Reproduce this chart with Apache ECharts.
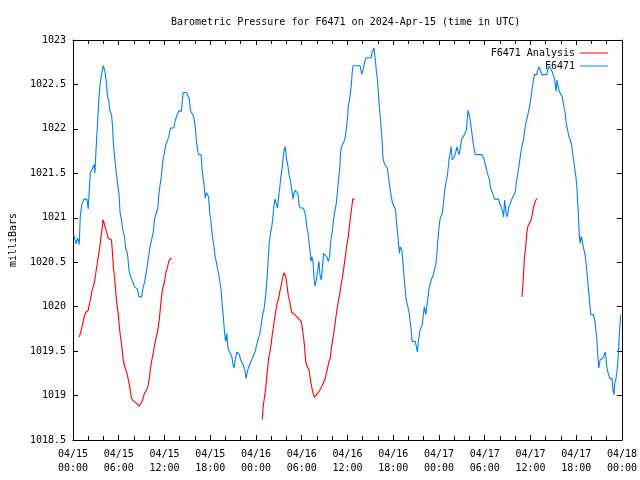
<!DOCTYPE html>
<html>
<head>
<meta charset="utf-8">
<script src="https://cdn.jsdelivr.net/npm/echarts@6/dist/echarts.min.js"></script>
<style>html,body{margin:0;padding:0;background:#fff}#c{width:640px;height:480px}</style>
</head>
<body>
<div id="c"></div>
<script>
// Hours since 2024-04-15 00:00 UTC
const xTickLabels = ['04/15\n00:00','04/15\n06:00','04/15\n12:00','04/15\n18:00','04/16\n00:00','04/16\n06:00','04/16\n12:00','04/16\n18:00','04/17\n00:00','04/17\n06:00','04/17\n12:00','04/17\n18:00','04/18\n00:00'];
const yTickLabels = ['1018.5','1019','1019.5','1020','1020.5','1021','1021.5','1022','1022.5','1023'];

const stationHours = [0.09,0.39,0.61,0.82,0.95,1.13,1.40,1.83,2.00,2.13,2.26,2.57,2.78,2.87,3.00,3.13,3.30,3.43,3.56,3.74,3.95,4.17,4.34,4.53,4.70,4.83,5.05,5.18,5.31,5.48,5.61,5.74,5.91,6.04,6.17,6.35,6.48,6.61,6.78,6.91,7.13,7.21,7.34,7.47,7.57,7.70,7.83,8.09,8.44,8.65,9.00,9.22,9.39,9.65,9.82,10.08,10.30,10.53,10.70,10.96,11.13,11.26,11.39,11.57,11.70,11.83,12.00,12.13,12.35,12.56,12.78,13.21,13.43,13.66,13.87,14.22,14.44,14.87,15.04,15.26,15.39,15.65,15.82,16.04,16.17,16.34,16.47,16.79,16.92,17.05,17.22,17.35,17.48,17.65,17.78,17.91,18.09,18.22,18.35,18.52,18.65,18.78,18.95,19.08,19.21,19.40,19.53,19.66,19.83,19.96,20.05,20.18,20.31,20.52,20.70,20.83,20.96,21.13,21.26,21.48,21.69,21.82,22.00,22.21,22.34,22.57,22.70,22.87,23.00,23.22,23.44,23.65,23.87,24.09,24.30,24.52,24.74,24.87,25.04,25.17,25.30,25.47,25.60,25.73,25.92,26.05,26.18,26.35,26.48,26.70,26.83,27.00,27.13,27.26,27.43,27.56,27.69,27.82,28.00,28.21,28.34,28.53,28.79,28.87,29.00,29.18,29.39,29.52,29.65,29.83,30.17,30.39,30.52,30.69,30.82,30.95,31.13,31.21,31.34,31.47,31.60,31.73,31.92,32.09,32.26,32.39,32.57,32.70,32.87,33.13,33.30,33.48,33.65,33.82,34.00,34.17,34.34,34.53,34.70,34.87,35.00,35.09,35.22,35.48,35.65,35.83,36.00,36.09,36.26,36.39,36.52,36.61,36.74,37.66,37.87,38.09,38.26,38.44,39.09,39.22,39.39,39.48,39.65,39.78,39.91,40.04,40.21,40.34,40.53,40.66,40.83,41.05,41.22,41.39,41.52,41.70,41.87,42.09,42.30,42.43,42.56,42.69,42.82,42.91,43.00,43.13,43.30,43.43,43.57,43.70,43.87,44.09,44.22,44.35,44.48,44.87,45.04,45.17,45.30,45.48,45.65,45.82,45.95,46.08,46.27,46.40,46.57,46.70,46.87,47.05,47.26,47.39,47.57,47.70,47.83,47.96,48.09,48.22,48.43,48.56,48.69,48.82,48.95,49.08,49.21,49.34,49.48,49.61,49.74,49.92,50.05,50.18,50.35,50.52,50.65,50.78,50.96,51.13,51.30,51.48,51.61,51.69,51.82,52.00,52.13,52.26,52.43,52.60,52.79,53.65,53.87,54.00,54.17,54.30,54.43,54.61,54.74,54.87,55.04,55.17,55.30,55.83,55.96,56.13,56.35,56.48,56.61,56.78,56.96,57.13,57.35,57.56,57.82,58.00,58.17,58.34,58.53,58.70,58.87,59.09,59.26,59.44,59.61,59.78,59.96,60.17,60.39,60.52,60.82,60.95,61.13,61.30,61.48,62.13,62.26,62.44,62.70,62.87,63.04,63.22,63.35,63.48,63.65,63.78,64.00,64.17,64.34,64.53,64.70,64.87,65.05,65.22,65.39,65.52,65.65,65.83,65.96,66.09,66.17,66.30,66.39,66.52,66.65,66.78,66.95,67.13,67.26,67.39,67.53,67.66,67.79,67.92,68.26,68.44,68.57,68.70,68.83,68.96,69.13,69.30,69.48,69.65,69.83,69.96,70.08,70.27,70.43,70.70,70.83,70.96,71.05,71.22,71.39,71.52,71.65,71.74,71.83];
const stationMb = [1020.81,1020.71,1020.77,1020.70,1021.01,1021.14,1021.21,1021.21,1021.10,1021.31,1021.50,1021.56,1021.60,1021.50,1021.73,1021.93,1022.19,1022.38,1022.51,1022.61,1022.71,1022.66,1022.55,1022.36,1022.31,1022.21,1022.16,1022.04,1021.82,1021.67,1021.56,1021.46,1021.35,1021.26,1021.06,1020.98,1020.89,1020.84,1020.77,1020.66,1020.60,1020.54,1020.41,1020.36,1020.34,1020.38,1020.28,1020.22,1020.20,1020.11,1020.11,1020.23,1020.27,1020.41,1020.51,1020.66,1020.75,1020.84,1020.99,1021.01,1021.11,1021.26,1021.35,1021.46,1021.56,1021.67,1021.73,1021.81,1021.86,1021.91,1022.01,1022.01,1022.10,1022.16,1022.20,1022.20,1022.41,1022.41,1022.38,1022.33,1022.21,1022.19,1022.14,1022.02,1021.88,1021.76,1021.71,1021.71,1021.56,1021.46,1021.35,1021.22,1021.28,1021.29,1021.24,1021.07,1020.96,1020.84,1020.75,1020.66,1020.56,1020.51,1020.43,1020.38,1020.31,1020.21,1020.06,1019.94,1019.76,1019.64,1019.61,1019.70,1019.55,1019.49,1019.49,1019.44,1019.36,1019.31,1019.40,1019.49,1019.49,1019.46,1019.40,1019.40,1019.34,1019.27,1019.19,1019.27,1019.31,1019.36,1019.40,1019.42,1019.49,1019.57,1019.64,1019.70,1019.70,1019.91,1019.96,1020.06,1020.15,1020.34,1020.52,1020.71,1020.84,1020.88,1020.98,1021.13,1021.21,1021.21,1021.11,1021.26,1021.35,1021.46,1021.56,1021.67,1021.76,1021.80,1021.67,1021.57,1021.48,1021.41,1021.41,1021.21,1021.28,1021.31,1021.31,1021.26,1021.14,1021.11,1021.11,1021.07,1021.01,1020.88,1020.83,1020.73,1020.60,1020.51,1020.56,1020.51,1020.34,1020.23,1020.30,1020.41,1020.51,1020.36,1020.30,1020.43,1020.60,1020.60,1020.56,1020.51,1020.56,1020.75,1020.84,1020.98,1021.07,1021.16,1021.31,1021.46,1021.57,1021.73,1021.80,1021.82,1021.88,1021.99,1022.12,1022.25,1022.33,1022.40,1022.51,1022.63,1022.71,1022.71,1022.61,1022.68,1022.76,1022.80,1022.80,1022.86,1022.85,1022.91,1022.78,1022.66,1022.57,1022.42,1022.21,1022.10,1021.88,1021.67,1021.61,1021.59,1021.56,1021.46,1021.37,1021.26,1021.18,1021.13,1021.09,1020.96,1020.84,1020.71,1020.60,1020.67,1020.69,1020.64,1020.47,1020.32,1020.19,1020.08,1020.02,1019.93,1019.83,1019.74,1019.61,1019.61,1019.55,1019.49,1019.61,1019.72,1019.77,1019.80,1019.91,1020.00,1019.91,1020.00,1020.11,1020.21,1020.26,1020.32,1020.36,1020.41,1020.47,1020.56,1020.73,1020.84,1020.96,1021.01,1021.05,1021.14,1021.26,1021.35,1021.41,1021.46,1021.56,1021.67,1021.74,1021.80,1021.65,1021.63,1021.69,1021.73,1021.80,1021.74,1021.71,1021.78,1021.88,1021.89,1021.93,1021.93,1021.99,1022.10,1022.21,1022.14,1022.08,1021.99,1021.88,1021.78,1021.71,1021.71,1021.67,1021.63,1021.57,1021.52,1021.48,1021.43,1021.35,1021.31,1021.28,1021.24,1021.21,1021.21,1021.16,1021.13,1021.07,1021.01,1021.20,1021.07,1021.01,1021.11,1021.11,1021.21,1021.21,1021.29,1021.41,1021.50,1021.61,1021.71,1021.80,1021.88,1021.99,1022.08,1022.14,1022.21,1022.29,1022.42,1022.55,1022.61,1022.61,1022.66,1022.70,1022.66,1022.61,1022.61,1022.66,1022.71,1022.71,1022.64,1022.59,1022.53,1022.42,1022.55,1022.47,1022.42,1022.42,1022.36,1022.27,1022.19,1022.06,1021.99,1021.91,1021.88,1021.82,1021.74,1021.65,1021.54,1021.46,1021.35,1021.20,1021.01,1020.81,1020.71,1020.79,1020.75,1020.66,1020.60,1020.52,1020.41,1020.26,1020.15,1020.02,1019.91,1019.91,1019.85,1019.74,1019.64,1019.46,1019.31,1019.40,1019.38,1019.42,1019.44,1019.49,1019.36,1019.29,1019.23,1019.19,1019.19,1019.06,1019.01,1019.14,1019.19,1019.31,1019.46,1019.68,1019.79,1019.91];

const analysisSeg1Hours = [0.82,1.04,1.27,1.47,1.70,2.00,2.18,2.35,2.52,2.70,2.87,3.04,3.22,3.39,3.56,3.74,3.87,3.95,4.08,4.27,4.43,4.61,4.74,5.05,5.18,5.31,5.48,5.61,5.74,5.91,6.04,6.17,6.35,6.48,6.61,6.78,6.95,7.13,7.30,7.47,7.66,7.92,8.22,8.44,8.65,8.87,9.04,9.22,9.39,9.65,9.82,10.00,10.17,10.34,10.53,10.70,10.96,11.13,11.31,11.48,11.65,11.83,12.00,12.17,12.35,12.56,12.78,12.95];
const analysisSeg1Mb = [1019.66,1019.72,1019.81,1019.89,1019.94,1019.96,1020.04,1020.11,1020.19,1020.24,1020.30,1020.41,1020.51,1020.60,1020.71,1020.83,1020.92,1020.98,1020.94,1020.88,1020.83,1020.77,1020.75,1020.75,1020.60,1020.43,1020.30,1020.17,1020.04,1019.93,1019.81,1019.70,1019.59,1019.49,1019.38,1019.33,1019.31,1019.23,1019.16,1019.08,1018.97,1018.94,1018.92,1018.90,1018.88,1018.88,1018.93,1018.98,1019.03,1019.06,1019.10,1019.19,1019.31,1019.40,1019.48,1019.57,1019.59,1019.74,1019.85,1020.00,1020.15,1020.23,1020.28,1020.38,1020.43,1020.51,1020.54,1020.54];
const analysisSeg2Hours = [24.82,24.95,25.13,25.30,25.40,25.53,25.66,25.83,26.00,26.13,26.26,26.44,26.61,26.78,26.96,27.13,27.30,27.48,27.65,27.78,27.91,28.08,28.26,28.43,28.66,28.87,29.31,29.65,29.96,30.17,30.35,30.52,30.69,30.95,31.13,31.30,31.47,31.66,31.92,32.13,32.35,32.61,32.87,33.04,33.22,33.39,33.56,33.74,33.91,34.08,34.27,34.43,34.61,34.79,34.96,35.13,35.31,35.48,35.65,35.83,36.00,36.17,36.35,36.52,36.69,36.95];
const analysisSeg2Mb = [1018.73,1018.88,1018.99,1019.10,1019.21,1019.31,1019.42,1019.49,1019.59,1019.68,1019.76,1019.87,1019.96,1020.04,1020.09,1020.17,1020.24,1020.32,1020.38,1020.39,1020.34,1020.23,1020.11,1020.06,1019.94,1019.92,1019.89,1019.86,1019.83,1019.70,1019.57,1019.38,1019.33,1019.29,1019.18,1019.10,1019.03,1018.98,1018.98,1019.03,1019.06,1019.10,1019.12,1019.18,1019.25,1019.31,1019.38,1019.42,1019.55,1019.64,1019.74,1019.85,1019.96,1020.06,1020.13,1020.23,1020.32,1020.41,1020.52,1020.64,1020.73,1020.83,1020.98,1021.09,1021.21,1021.21];
const analysisSeg3Hours = [58.87,58.96,59.05,59.13,59.22,59.39,59.52,59.65,59.91,60.09,60.26,60.43,60.61,60.78,60.91];
const analysisSeg3Mb = [1020.11,1020.19,1020.30,1020.43,1020.56,1020.69,1020.83,1020.90,1020.92,1020.98,1021.05,1021.13,1021.18,1021.21,1021.21];

const zip = (h, v) => h.map((x, i) => [x, v[i]]);
const analysisData = [].concat(
  zip(analysisSeg1Hours, analysisSeg1Mb), [[13.5, '-']],
  zip(analysisSeg2Hours, analysisSeg2Mb), [[45, '-']],
  zip(analysisSeg3Hours, analysisSeg3Mb)
);
const stationData = zip(stationHours, stationMb);

const FONT = 'DejaVu Sans Mono';
const txt = { fontFamily: FONT, fontSize: 10, color: '#000' };
const axisLine = { show: true, onZero: false, lineStyle: { color: '#000', width: 1 } };

const chart = echarts.init(document.getElementById('c'), null, { renderer: 'canvas' });
chart.setOption({
  animation: false,
  backgroundColor: '#fff',
  title: {
    text: 'Barometric Pressure for F6471 on 2024-Apr-15 (time in UTC)',
    left: 166, top: 12,
    textStyle: { fontFamily: FONT, fontSize: 10, fontWeight: 'normal', color: '#000' }
  },
  legend: [
    { data: ['F6471 Analysis'], orient: 'vertical', align: 'right', right: 27, top: 43,
      icon: 'rect', itemWidth: 28, itemHeight: 1, itemGap: 0, textStyle: txt, selectedMode: false },
    { data: ['F6471'], orient: 'vertical', align: 'right', right: 27, top: 56,
      icon: 'rect', itemWidth: 28, itemHeight: 1, itemGap: 0, textStyle: txt, selectedMode: false }
  ],
  grid: { left: 70, right: 18, top: 40, bottom: 40, containLabel: false },
  xAxis: [
    { type: 'value', min: 0, max: 72, interval: 6, position: 'bottom',
      axisLine: axisLine,
      axisTick: { show: true, inside: true, length: 5, lineStyle: { color: '#000' } },
      minorTick: { show: true, splitNumber: 3, length: 4, lineStyle: { color: '#000' } },
      splitLine: { show: false },
      axisLabel: { show: true, margin: 7, lineHeight: 14, fontFamily: FONT, fontSize: 10, color: '#000',
        formatter: v => xTickLabels[Math.round(v / 6)] } },
    { type: 'value', min: 0, max: 72, interval: 6, position: 'top',
      axisLine: axisLine,
      axisTick: { show: true, inside: true, length: 5, lineStyle: { color: '#000' } },
      minorTick: { show: true, splitNumber: 3, length: 4, lineStyle: { color: '#000' } },
      splitLine: { show: false }, axisLabel: { show: false } }
  ],
  yAxis: [
    { type: 'value', min: 1018.5, max: 1023, interval: 0.5, position: 'left',
      name: 'milliBars', nameLocation: 'middle', nameGap: 55, nameRotate: 90,
      nameTextStyle: { fontFamily: FONT, fontSize: 10, color: '#000' },
      axisLine: axisLine,
      axisTick: { show: true, inside: true, length: 5, lineStyle: { color: '#000' } },
      splitLine: { show: false },
      axisLabel: { show: true, margin: 7, fontFamily: FONT, fontSize: 10, color: '#000',
        formatter: v => yTickLabels[Math.round((v - 1018.5) / 0.5)] } },
    { type: 'value', min: 1018.5, max: 1023, interval: 0.5, position: 'right',
      axisLine: axisLine,
      axisTick: { show: true, inside: true, length: 5, lineStyle: { color: '#000' } },
      splitLine: { show: false }, axisLabel: { show: false } }
  ],
  series: [
    { name: 'F6471 Analysis', type: 'line', data: analysisData, xAxisIndex: 0, yAxisIndex: 0,
      showSymbol: false, symbol: 'none', connectNulls: false,
      lineStyle: { color: '#ff0000', width: 1.1 }, itemStyle: { color: '#ff0000' } },
    { name: 'F6471', type: 'line', data: stationData, xAxisIndex: 0, yAxisIndex: 0,
      showSymbol: false, symbol: 'none',
      lineStyle: { color: '#0080ff', width: 1.1 }, itemStyle: { color: '#0080ff' } }
  ]
});
</script>
</body>
</html>
